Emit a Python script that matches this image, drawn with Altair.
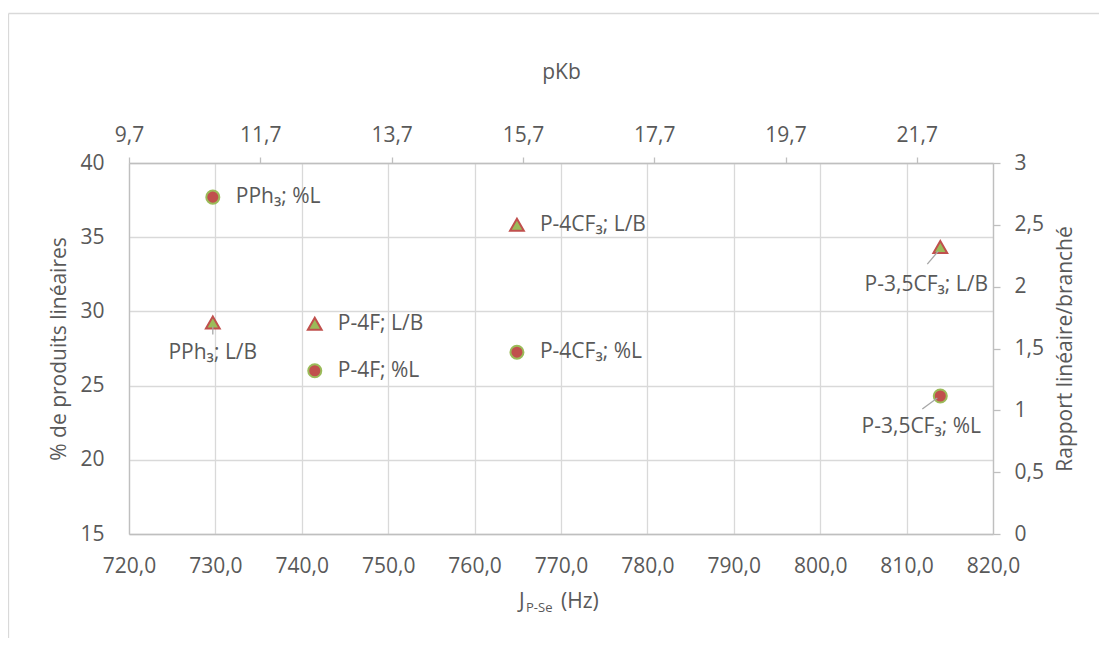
import altair as alt
import pandas as pd

# ---- data ----
keys = ["PPh3", "P4F", "P4CF3", "P35CF3"]
names = ["PPh₃", "P-4F", "P-4CF₃", "P-3,5CF₃"]
j_pse = [729.7, 741.5, 764.9, 813.9]          # J P-Se (Hz)
pct_linear = [37.7, 26.0, 27.25, 24.3]         # % de produits linéaires
ratio_lb = [1.71, 1.70, 2.50, 2.32]            # Rapport linéaire/branché
hz_ticks = [720, 730, 740, 750, 760, 770, 780, 790, 800, 810, 820]
pkb_ticks = [9.7, 11.7, 13.7, 15.7, 17.7, 19.7, 21.7]
left_ticks = [15, 20, 25, 30, 35, 40]
right_ticks = [0, 0.5, 1, 1.5, 2, 2.5, 3]

RED = "#C0504D"
GREEN = "#9BBB59"
GRID = "#D9D9D9"
AXIS = "#BFBFBF"
TXT = "#595959"
LEADER = "#A6A6A6"
FONT = "Open Sans"
FS = 21

W, H = 864, 371

df = pd.DataFrame({"key": keys, "name": names, "J": j_pse, "pL": pct_linear, "LB": ratio_lb})
df["labL"] = df["name"] + "; %L"
df["labB"] = df["name"] + "; L/B"
base = alt.Chart(df)

X = alt.X("J:Q", scale=alt.Scale(domain=[720, 820], nice=False, zero=False),
          axis=alt.Axis(orient="bottom", values=hz_ticks,
                        labelExpr="replace(format(datum.value, '.1f'), '.', ',')",
                        labelFlush=False, labelOverlap=False,
                        ticks=False, tickSize=0, grid=True, gridColor=GRID, gridWidth=1.3,
                        domainColor=AXIS, domainWidth=1.3, labelPadding=21,
                        labelFontSize=FS, labelColor=TXT, labelFont=FONT, title=""))

YL = alt.Y("pL:Q", scale=alt.Scale(domain=[15, 40], nice=False, zero=False),
           axis=alt.Axis(orient="left", values=left_ticks, ticks=False, tickSize=0,
                         labelFlush=False, labelOverlap=False,
                         grid=True, gridColor=GRID, gridWidth=1.3, domainColor=AXIS, domainWidth=1.3,
                         labelPadding=25, labelFontSize=FS, labelColor=TXT, labelFont=FONT,
                         title="% de produits linéaires", titleFont=FONT, titleFontSize=FS,
                         titleFontWeight="normal", titleColor=TXT, titlePadding=10))

YR = alt.Y("LB:Q", scale=alt.Scale(domain=[0, 3], nice=False, zero=False),
           axis=alt.Axis(orient="right", values=right_ticks,
                         labelExpr="replace(format(datum.value, '~g'), '.', ',')",
                         labelFlush=False, labelOverlap=False,
                         ticks=True, tickSize=7, tickColor=AXIS, tickWidth=1.3, grid=False,
                         domainColor=AXIS, domainWidth=1.3, labelPadding=14,
                         labelFontSize=FS, labelColor=TXT, labelFont=FONT,
                         title="Rapport linéaire/branché", titleFont=FONT, titleFontSize=FS,
                         titleFontWeight="normal", titleColor=TXT, titleAngle=270,
                         titleBaseline="top", titlePadding=11))


def labels(sel, field, y, align, dx, dy):
    return base.transform_filter(
        alt.FieldOneOfPredicate(field="key", oneOf=sel)
    ).mark_text(font=FONT, fontSize=FS, color=TXT, align=align, baseline="middle",
                dx=dx, dy=dy).encode(x=X, y=y, text=field + ":N")


def leader(k, y, y2field, xo, yo, x2o, y2o):
    return base.transform_filter(alt.datum.key == k).mark_rule(
        color=LEADER, strokeWidth=1.3, xOffset=xo, yOffset=yo, x2Offset=x2o, y2Offset=y2o
    ).encode(x=X, x2="J:Q", y=y, y2=y2field)


circles = base.mark_point(shape="circle", filled=True, color=RED, stroke=GREEN,
                          strokeWidth=2, size=170, opacity=1).encode(x=X, y=YL)
triangles = base.mark_point(shape="triangle-up", filled=True, color=GREEN, stroke=RED,
                            strokeWidth=2, size=190, opacity=1).encode(x=X, y=YR)

left_group = alt.layer(
    circles,
    labels(["PPh3", "P4F", "P4CF3"], "labL", YL, "left", 23, 0),
    labels(["P35CF3"], "labL", YL, "center", -19, 31),
    leader("P35CF3", YL, "pL:Q", -18, 13, -3, 2),
)

right_group = alt.layer(
    triangles,
    labels(["P4F", "P4CF3"], "labB", YR, "left", 23, 0),
    labels(["PPh3"], "labB", YR, "center", 0, 30),
    labels(["P35CF3"], "labB", YR, "center", -14, 38),
    leader("PPh3", YR, "LB:Q", 0, 4, 0, 12),
    leader("P35CF3", YR, "LB:Q", -13, 17, -2, 4),
)

# chart frame and composed x-axis title (J with subscript P-Se)
one = pd.DataFrame({"t": [""]})
frame_left = alt.Chart(one).mark_rule(color=GRID, strokeWidth=1.3).encode(
    x=alt.value(-120.5), y=alt.value(-149.5), y2=alt.value(480))
frame_top = alt.Chart(one).mark_rule(color=GRID, strokeWidth=1.3).encode(
    x=alt.value(-120.5), x2=alt.value(980), y=alt.value(-149.5))
t_j = alt.Chart(one).mark_text(font=FONT, fontSize=FS, color=TXT, align="left",
                               baseline="alphabetic").encode(
    x=alt.value(390), y=alt.value(445), text=alt.value("J"))
t_sub = alt.Chart(one).mark_text(font=FONT, fontSize=13, color=TXT, align="left",
                                 baseline="alphabetic").encode(
    x=alt.value(397), y=alt.value(449), text=alt.value("P-Se"))
t_hz = alt.Chart(one).mark_text(font=FONT, fontSize=FS, color=TXT, align="left",
                                baseline="alphabetic").encode(
    x=alt.value(432), y=alt.value(445), text=alt.value("(Hz)"))

inner = alt.layer(left_group, right_group, frame_left, frame_top, t_j, t_sub, t_hz
                  ).resolve_scale(y="independent")

pkb_df = pd.DataFrame({"pkb": pkb_ticks})
top_axis = alt.Chart(pkb_df).mark_point(opacity=0).encode(
    x=alt.X("pkb:Q", scale=alt.Scale(domain=[9.7, 22.86], nice=False, zero=False),
            axis=alt.Axis(orient="top", values=pkb_ticks,
                          labelExpr="replace(format(datum.value, '.1f'), '.', ',')",
                          labelFlush=False, labelOverlap=False,
                          ticks=True, tickSize=6, tickColor=AXIS, tickWidth=1.3, grid=False,
                          domainColor=AXIS, domainWidth=1.3, labelPadding=12,
                          labelFontSize=FS, labelColor=TXT, labelFont=FONT,
                          title="pKb", titleFont=FONT, titleFontSize=FS,
                          titleFontWeight="normal", titleColor=TXT, titlePadding=42))
)

chart = alt.layer(inner, top_axis).resolve_scale(x="independent", y="independent").properties(
    width=W, height=H,
    padding={"left": 121, "top": 155, "right": 106, "bottom": 104},
    autosize=alt.AutoSizeParams(type="none"),
    background="white",
).configure_view(strokeWidth=0)

chart.save("out.html", embed_options={"renderer": "svg", "actions": False})
